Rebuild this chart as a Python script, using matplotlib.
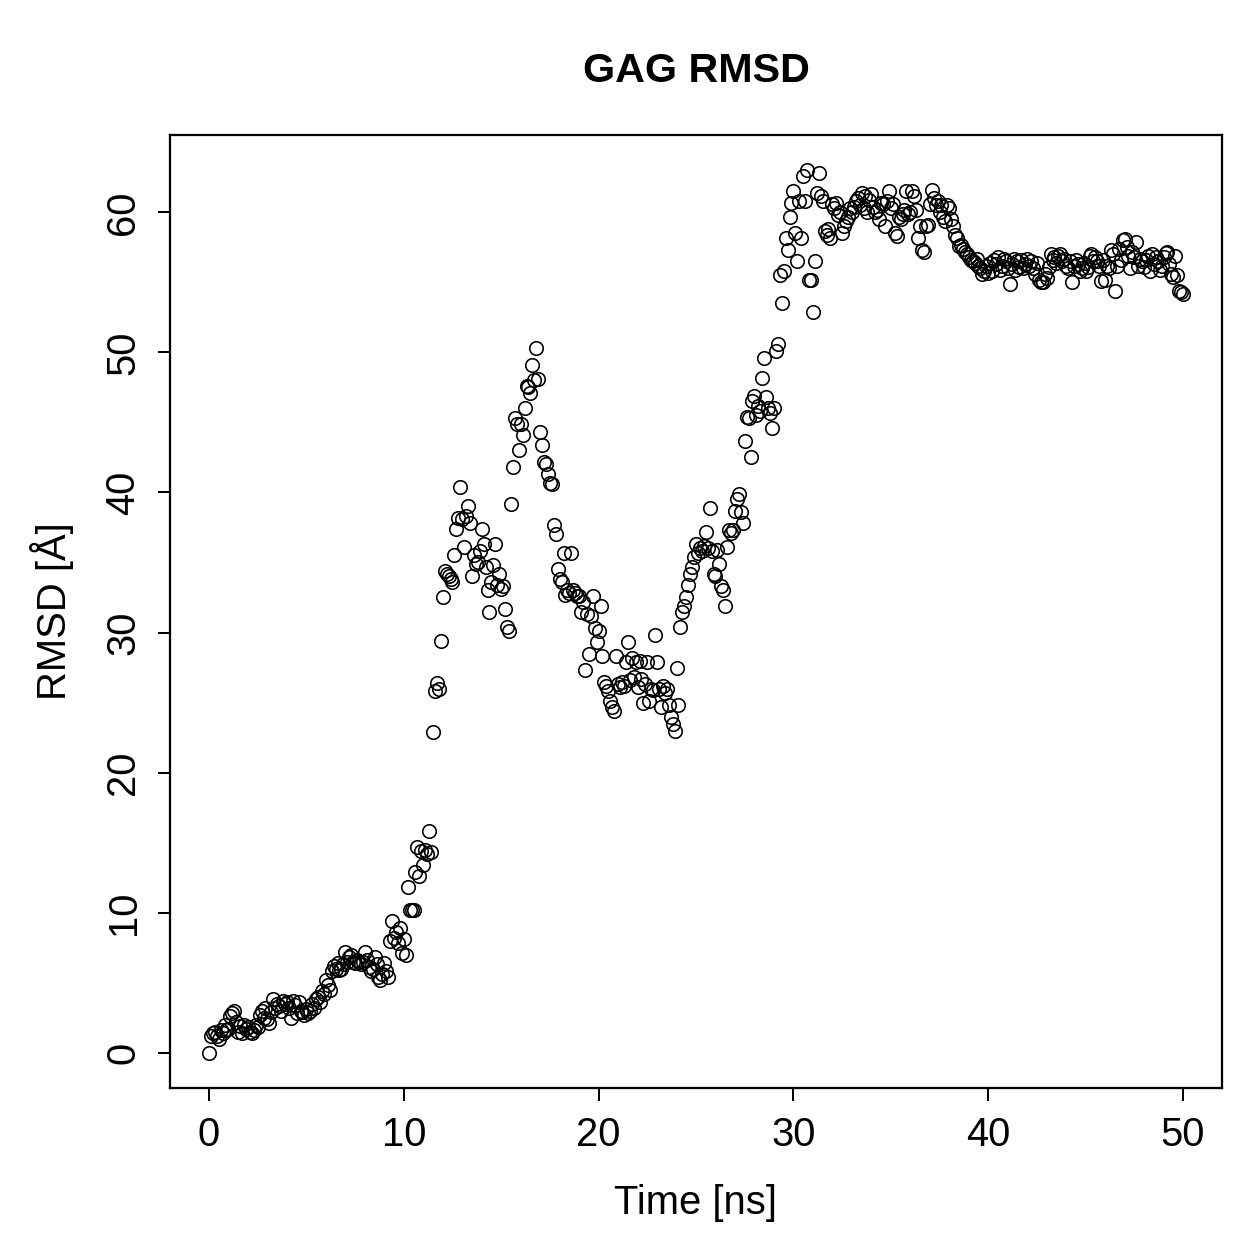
import numpy as np
import matplotlib
matplotlib.use("Agg")
import matplotlib.pyplot as plt

plt.rcParams['font.family'] = ['Liberation Sans', 'DejaVu Sans']

# RMSD (Angstrom) sampled every 0.1 ns, 0 - 50 ns
rmsd = [
    0.0, 1.2, 1.4, 1.5, 1.2, 1.0, 1.6, 1.4, 2.0, 1.6,
    1.7, 2.6, 2.8, 3.0, 2.2, 1.5, 1.9, 1.4, 2.0, 1.7,
    1.8, 1.5, 1.4, 1.6, 2.0, 1.8, 2.7, 3.0, 2.5, 3.2,
    2.4, 2.1, 2.9, 3.8, 3.2, 3.5, 3.3, 3.0, 3.7, 3.5,
    3.6, 3.2, 2.5, 3.7, 3.4, 2.8, 3.6, 3.0, 2.9, 2.7,
    3.1, 2.8, 3.0, 3.5, 3.2, 3.8, 4.0, 3.6, 4.4, 4.2,
    5.2, 4.8, 4.5, 5.8, 6.2, 6.0, 6.4, 5.9, 6.0, 6.3,
    7.2, 6.5, 6.8, 7.0, 6.5, 6.4, 6.6, 6.5, 6.3, 6.5,
    7.2, 6.6, 6.1, 5.8, 6.0, 6.8, 6.3, 5.4, 5.2, 5.6,
    6.4, 5.8, 5.4, 8.0, 9.4, 8.2, 8.6, 7.8, 8.9, 7.1,
    8.1, 7.0, 11.8, 10.2, 10.2, 10.2, 12.9, 14.7, 12.6, 14.4,
    13.4, 14.5, 14.2, 15.8, 14.3, 22.9, 25.8, 26.4, 26.0, 29.4,
    32.5, 34.4, 34.2, 34.0, 33.8, 33.6, 35.5, 37.4, 38.2, 40.4,
    38.1, 36.1, 38.3, 39.0, 37.8, 34.0, 35.5, 34.9, 35.0, 35.8,
    37.4, 36.3, 34.7, 33.0, 31.5, 33.6, 34.8, 36.3, 33.4, 34.2,
    33.1, 33.3, 31.7, 30.4, 30.1, 39.2, 41.8, 45.3, 44.9, 43.0,
    44.9, 44.1, 46.0, 47.6, 47.5, 47.1, 49.1, 48.0, 50.3, 48.1,
    44.3, 43.4, 42.2, 42.0, 41.3, 40.7, 40.6, 37.7, 37.0, 34.5,
    33.8, 33.6, 35.7, 32.7, 33.0, 32.8, 35.7, 33.0, 32.8, 32.6,
    32.6, 31.5, 32.2, 27.3, 31.3, 28.5, 31.2, 32.6, 30.3, 29.3,
    30.1, 31.9, 28.3, 26.5, 26.2, 25.8, 25.1, 24.7, 24.4, 28.3,
    26.3, 26.1, 26.5, 26.2, 27.9, 29.3, 26.6, 28.2, 26.8, 27.9,
    26.1, 28.0, 26.7, 25.0, 26.3, 27.9, 25.1, 26.0, 25.9, 29.8,
    27.9, 26.0, 24.7, 26.2, 25.7, 26.0, 24.8, 24.0, 23.5, 23.0,
    27.5, 24.8, 30.4, 31.5, 31.9, 32.5, 33.4, 34.2, 34.7, 35.4,
    36.3, 35.7, 36.0, 35.8, 36.2, 37.2, 36.0, 38.9, 35.8, 34.2,
    34.0, 35.9, 34.9, 33.3, 33.0, 31.9, 36.1, 37.3, 37.1, 37.3,
    38.7, 39.5, 39.9, 38.6, 37.8, 43.7, 45.4, 45.3, 42.5, 46.5,
    46.9, 45.5, 46.2, 45.8, 48.2, 49.6, 46.8, 46.0, 45.7, 44.6,
    46.0, 50.1, 50.6, 55.5, 53.5, 55.8, 58.2, 57.3, 59.7, 60.7,
    61.5, 58.5, 56.5, 60.8, 58.2, 62.6, 60.8, 63.0, 55.2, 55.2,
    52.9, 56.5, 61.4, 62.8, 61.2, 60.8, 58.7, 58.4, 58.8, 58.2,
    60.6, 60.3, 60.7, 59.8, 60.0, 58.5, 59.0, 59.4, 59.7, 60.3,
    60.0, 60.4, 60.8, 61.0, 60.5, 61.4, 60.3, 61.2, 60.0, 60.9,
    61.3, 60.4, 60.0, 60.2, 59.5, 60.7, 60.6, 59.0, 60.8, 61.5,
    60.3, 60.6, 58.5, 58.3, 59.7, 59.5, 59.9, 60.2, 61.5, 59.9,
    60.0, 61.5, 61.2, 60.2, 58.2, 59.0, 57.3, 57.2, 59.0, 59.1,
    60.6, 61.6, 61.0, 60.5, 60.8, 60.0, 60.5, 59.7, 59.4, 60.5,
    60.3, 59.5, 59.0, 58.4, 58.2, 57.6, 57.7, 57.4, 57.2, 57.0,
    56.8, 56.6, 56.5, 56.4, 56.7, 56.2, 56.0, 55.6, 55.8, 56.2,
    55.7, 56.4, 55.8, 56.6, 56.3, 56.8, 55.9, 56.2, 56.7, 56.5,
    56.0, 54.9, 56.3, 56.7, 55.9, 56.5, 56.1, 56.6, 56.0, 56.3,
    56.7, 56.2, 56.5, 56.0, 55.6, 56.4, 55.2, 55.0, 55.0, 55.6,
    55.3, 56.1, 57.0, 56.6, 56.8, 56.4, 56.9, 57.0, 56.5, 56.7,
    56.2, 56.0, 56.5, 55.0, 56.2, 56.6, 56.3, 55.8, 56.0, 56.4,
    55.8, 56.1, 56.9, 57.0, 56.5, 56.8, 56.5, 56.2, 55.1, 56.6,
    55.2, 56.2, 56.0, 57.3, 57.0, 54.4, 56.2, 57.4, 56.6, 58.0,
    58.1, 57.5, 56.9, 56.0, 57.2, 56.8, 57.9, 56.2, 56.7, 56.5,
    56.1, 56.6, 56.9, 55.8, 57.0, 56.3, 56.8, 56.5, 55.9, 56.2,
    56.8, 57.1, 57.2, 56.3, 55.6, 55.4, 56.9, 55.5, 54.4, 54.3,
    54.2,
]
time_ns = np.arange(len(rmsd)) * 0.1

fig = plt.figure(figsize=(1259 / 180, 1259 / 180), dpi=180)
ax = fig.add_axes([170 / 1259, 1 - 1088 / 1259, (1222 - 170) / 1259, (1088 - 135) / 1259])

ax.plot(time_ns, rmsd, linestyle='none', marker='o', markersize=5.4,
        markerfacecolor='none', markeredgecolor='black', markeredgewidth=0.65)

ax.set_xlim(-2, 52)
ax.set_ylim(-2.52, 65.52)
ax.set_xticks([0, 10, 20, 30, 40, 50])
ax.set_yticks([0, 10, 20, 30, 40, 50, 60])
ax.tick_params(direction='out', length=5, width=0.8, labelsize=16, pad=6)
for lbl in ax.get_yticklabels():
    lbl.set_rotation(90)
    lbl.set_va('center')
for s in ax.spines.values():
    s.set_linewidth(0.9)

ax.set_xlabel('Time [ns]', fontsize=16, labelpad=12)
ax.set_ylabel('RMSD [Å]', fontsize=16, labelpad=12)
ax.set_title('GAG RMSD', fontsize=16.5, fontweight='bold', pad=21)

fig.savefig('out.png', dpi=180)
